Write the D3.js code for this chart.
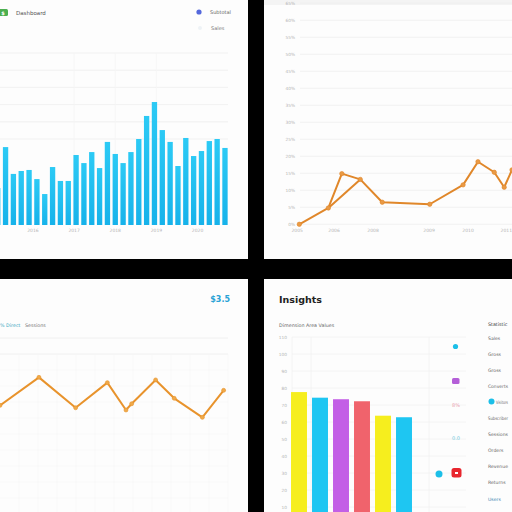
<!DOCTYPE html>
<html>
<head>
<meta charset="utf-8">
<script src="https://cdn.jsdelivr.net/npm/d3@7"></script>
<style>
body { margin: 0; background: #000; }
svg { display: block; }
text { font-family: "DejaVu Sans", sans-serif; }
</style>
</head>
<body>
<svg></svg>
<script>
// ---- data ----
// top-left: monthly bars
const barValues = [21.5, 45.3, 29.7, 31.4, 32.0, 26.7, 18.0, 33.7, 25.6, 25.6,
  40.7, 36.0, 42.4, 33.1, 48.3, 41.3, 36.0, 42.4, 50.0, 63.4,
  71.5, 55.2, 48.3, 34.3, 50.6, 40.1, 43.0, 48.8, 50.0, 44.8];
const barTickPos = [5, 10.25, 15.5, 20.75, 26];
const barTickLabels = ["2016", "2017", "2018", "2019", "2020"];

// top-right: growth line
const growthX = [0, 4.1, 6.0, 8.6, 11.7, 18.4, 23.1, 25.2, 27.5, 28.9, 30];
const growthY = [0, 4.8, 14.9, 13.2, 6.5, 5.9, 11.6, 18.4, 15.3, 10.9, 16.0];
const growthTrend = [1, 3]; // extra segment between these points
const growthTickPos = [-0.3, 4.9, 10.4, 18.3, 23.8, 29.2];
const growthTickLabels = ["2005", "2006", "2008", "2009", "2010", "2011"];

// bottom-left: sessions line
const sessionX = [0, 2.05, 3.98, 5.65, 6.63, 6.93, 8.19, 9.17, 10.65, 11.77];
const sessionY = [67.9, 85.4, 66.4, 82.1, 65.0, 68.9, 83.8, 72.3, 60.4, 77.3];

// bottom-right: category bars
const insightCats = ["A", "B", "C", "D", "E", "F"];
const insightValues = [77.6, 74.3, 73.4, 72.2, 63.7, 62.8];
const insightColors = ["#f6ee1e", "#1ec6f2", "#c35fe6", "#f0636c", "#f6ee1e", "#1ec6f2"];
const insightList = ["Sales", "Gross", "Gross", "Converts", "Visitors", "Subscriber",
  "Sessions", "Orders", "Revenue", "Returns", "Users"];

// ---- layout ----
const svg = d3.select("svg").attr("width", 512).attr("height", 512);
svg.append("rect").attr("width", 512).attr("height", 512).attr("fill", "#000");

const panels = [
  {id: "tl", x: 0, y: 0, w: 248, h: 259},
  {id: "tr", x: 264, y: 0, w: 248, h: 259},
  {id: "bl", x: 0, y: 279, w: 248, h: 233},
  {id: "br", x: 264, y: 279, w: 248, h: 233}
];
const defs = svg.append("defs");
const g = {};
panels.forEach(p => {
  defs.append("clipPath").attr("id", "clip-" + p.id)
    .append("rect").attr("x", p.x).attr("y", p.y).attr("width", p.w).attr("height", p.h);
  g[p.id] = svg.append("g").attr("clip-path", `url(#clip-${p.id})`);
  g[p.id].append("rect").attr("x", p.x).attr("y", p.y).attr("width", p.w).attr("height", p.h)
    .attr("fill", "#fdfdfd");
});

const grid = "#eeeeee";
const label = "#b5b5b5";

// ---- top-left: bars ----
{
  const gg = g.tl;
  const x = d3.scaleBand().domain(d3.range(barValues.length))
    .range([-6.2, 228.9]).paddingInner(0.32).paddingOuter(0.16);
  const xl = d3.scaleLinear().domain([0, 30]).range([-6.2, 228.9]);
  const y = d3.scaleLinear().domain([0, 100]).range([225, 53]);

  gg.selectAll(".hg").data(d3.range(50, 101, 10)).enter().append("line")
    .attr("x1", 0).attr("x2", 228).attr("y1", d => y(d)).attr("y2", d => y(d))
    .attr("stroke", grid).attr("stroke-width", 0.8);
  gg.selectAll(".vg").data(barTickPos.slice(1, 4)).enter().append("line")
    .attr("x1", d => xl(d)).attr("x2", d => xl(d)).attr("y1", 53).attr("y2", 225)
    .attr("stroke", "#f5f5f5").attr("stroke-width", 0.8);

  const grad = defs.append("linearGradient").attr("id", "barGrad")
    .attr("x1", 0).attr("x2", 0).attr("y1", 0).attr("y2", 1);
  grad.append("stop").attr("offset", "0%").attr("stop-color", "#2ccaf5");
  grad.append("stop").attr("offset", "100%").attr("stop-color", "#16b2ea");

  gg.selectAll(".bar").data(barValues).enter().append("rect")
    .attr("x", (d, i) => x(i)).attr("width", x.bandwidth())
    .attr("y", d => y(d)).attr("height", d => y(0) - y(d))
    .attr("fill", "url(#barGrad)");

  gg.selectAll(".xl").data(barTickPos).enter().append("text")
    .attr("x", d => xl(d)).attr("y", 232).attr("text-anchor", "middle")
    .attr("font-size", 4.5).attr("fill", label)
    .text((d, i) => barTickLabels[i]);

  gg.append("rect").attr("x", -2).attr("y", 9).attr("width", 10).attr("height", 7)
    .attr("rx", 1.5).attr("fill", "#4caf50");
  gg.append("text").attr("x", 3).attr("y", 14.5).attr("text-anchor", "middle")
    .attr("font-size", 5).attr("font-weight", "bold").attr("fill", "#fff").text("$");
  gg.append("text").attr("x", 16).attr("y", 14.5).attr("font-size", 5.5)
    .attr("fill", "#555").text("Dashboard");
  gg.append("circle").attr("cx", 199).attr("cy", 12).attr("r", 2.6).attr("fill", "#5468dc");
  gg.append("text").attr("x", 210).attr("y", 14).attr("font-size", 5)
    .attr("fill", "#666").text("Subtotal");
  gg.append("circle").attr("cx", 200).attr("cy", 28).attr("r", 2).attr("fill", "#eef2f6");
  gg.append("text").attr("x", 211).attr("y", 30).attr("font-size", 5)
    .attr("fill", "#777").text("Sales");
}

// ---- top-right: growth line ----
{
  const gg = g.tr;
  const x = d3.scaleLinear().domain([0, 30]).range([299.3, 512]);
  const y = d3.scaleLinear().domain([0, 65]).range([224.3, 3.3]);
  const ticks = d3.range(0, 66, 5);

  gg.append("rect").attr("x", 264).attr("y", 0).attr("width", 248).attr("height", 5)
    .attr("fill", "#f4f4f4");
  gg.selectAll(".hg").data(ticks).enter().append("line")
    .attr("x1", 300).attr("x2", 512).attr("y1", d => y(d)).attr("y2", d => y(d))
    .attr("stroke", "#f0f0f0").attr("stroke-width", 0.8);
  gg.selectAll(".yl").data(ticks).enter().append("text")
    .attr("x", 295).attr("y", d => y(d) + 1.6).attr("text-anchor", "end")
    .attr("font-size", 4.3).attr("fill", label).text(d => d + "%");
  gg.selectAll(".xl").data(growthTickPos).enter().append("text")
    .attr("x", d => x(d)).attr("y", 232).attr("text-anchor", "middle")
    .attr("font-size", 4.5).attr("fill", label)
    .text((d, i) => growthTickLabels[i]);

  const pts = growthX.map((v, i) => [x(v), y(growthY[i])]);
  const line = d3.line();
  gg.append("path").attr("d", line(pts)).attr("fill", "none")
    .attr("stroke", "#e0872a").attr("stroke-width", 2).attr("stroke-linejoin", "round");
  gg.append("path").attr("d", line(growthTrend.map(i => pts[i]))).attr("fill", "none")
    .attr("stroke", "#e0872a").attr("stroke-width", 2);
  gg.selectAll(".pt").data(pts).enter().append("circle")
    .attr("cx", d => d[0]).attr("cy", d => d[1]).attr("r", 2.2)
    .attr("fill", "#e99a45").attr("stroke", "#e0872a").attr("stroke-width", 0.6);
}

// ---- bottom-left: sessions line ----
{
  const gg = g.bl;
  const x = d3.scaleLinear().domain([0, 12]).range([0, 228]);
  const y = d3.scaleLinear().domain([0, 110]).range([514, 338]);

  gg.selectAll(".hg").data(d3.range(0, 111, 10)).enter().append("line")
    .attr("x1", 0).attr("x2", 228).attr("y1", d => y(d)).attr("y2", d => y(d))
    .attr("stroke", d => d >= 100 ? "#ececec" : "#f7f7f7").attr("stroke-width", 0.8);
  gg.selectAll(".vg").data(d3.range(1, 13)).enter().append("line")
    .attr("x1", d => x(d)).attr("x2", d => x(d)).attr("y1", 354).attr("y2", 512)
    .attr("stroke", "#f7f7f7").attr("stroke-width", 0.8);

  gg.append("text").attr("x", 230).attr("y", 302).attr("text-anchor", "end")
    .attr("font-size", 8).attr("font-weight", "bold").attr("fill", "#2aa3d6").text("$3.5");
  gg.append("text").attr("x", 0).attr("y", 327).attr("font-size", 4.8)
    .attr("fill", "#3ca7bf").text("% Direct");
  gg.append("text").attr("x", 25).attr("y", 327).attr("font-size", 4.8)
    .attr("fill", "#777").text("Sessions");

  const pts = sessionX.map((v, i) => [x(v), y(sessionY[i])]);
  gg.append("path").attr("d", d3.line()(pts)).attr("fill", "none")
    .attr("stroke", "#e8932c").attr("stroke-width", 2).attr("stroke-linejoin", "round");
  gg.selectAll(".pt").data(pts).enter().append("circle")
    .attr("cx", d => d[0]).attr("cy", d => d[1]).attr("r", 2)
    .attr("fill", "#efa94a").attr("stroke", "#e8932c").attr("stroke-width", 0.6);
}

// ---- bottom-right: insights bars ----
{
  const gg = g.br;
  const x = d3.scaleBand().domain(insightCats).range([288.5, 414.5])
    .paddingInner(0.24).paddingOuter(0.12);
  const y = d3.scaleLinear().domain([0, 110]).range([524, 337]);
  const ticks = d3.range(10, 111, 10);

  gg.selectAll(".hg").data(ticks).enter().append("line")
    .attr("x1", 292).attr("x2", 466).attr("y1", d => y(d)).attr("y2", d => y(d))
    .attr("stroke", "#f1f1f1").attr("stroke-width", 0.8);
  gg.selectAll(".vg").data([292, 311, 429]).enter().append("line")
    .attr("x1", d => d).attr("x2", d => d).attr("y1", 337).attr("y2", 512)
    .attr("stroke", "#f1f1f1").attr("stroke-width", 0.8);
  gg.selectAll(".yl").data(ticks).enter().append("text")
    .attr("x", 287).attr("y", d => y(d) + 1.6).attr("text-anchor", "end")
    .attr("font-size", 4.3).attr("fill", label).text(d => d);

  gg.selectAll(".bar").data(insightValues).enter().append("rect")
    .attr("x", (d, i) => x(insightCats[i])).attr("width", x.bandwidth())
    .attr("y", d => y(d)).attr("height", d => y(0) - y(d))
    .attr("fill", (d, i) => insightColors[i]);

  gg.append("text").attr("x", 279).attr("y", 303).attr("font-size", 9.5)
    .attr("font-weight", "bold").attr("fill", "#222").text("Insights");
  gg.append("text").attr("x", 279).attr("y", 327).attr("font-size", 4.8)
    .attr("fill", "#666").text("Dimension Area Values");

  // markers beside the chart
  gg.append("circle").attr("cx", 455.5).attr("cy", 346.5).attr("r", 2.6).attr("fill", "#1cbfe8");
  gg.append("rect").attr("x", 452).attr("y", 378).attr("width", 7.5).attr("height", 6)
    .attr("rx", 1.5).attr("fill", "#b45fd8");
  gg.append("text").attr("x", 456).attr("y", 406.5).attr("text-anchor", "middle")
    .attr("font-size", 5).attr("fill", "#eaa2b0").text("8%");
  gg.append("text").attr("x", 456).attr("y", 440).attr("text-anchor", "middle")
    .attr("font-size", 5).attr("fill", "#6cc7dc").text("0.0");
  gg.append("circle").attr("cx", 439).attr("cy", 474).attr("r", 3.5).attr("fill", "#1cbfe8");
  gg.append("rect").attr("x", 451.5).attr("y", 468).attr("width", 10).attr("height", 9.5)
    .attr("rx", 2.5).attr("fill", "#e8262e");
  gg.append("rect").attr("x", 455).attr("y", 472).attr("width", 3).attr("height", 2)
    .attr("fill", "#fff");

  // right list
  gg.append("text").attr("x", 488).attr("y", 325.5).attr("font-size", 4.8)
    .attr("fill", "#444").text("Statistic");
  gg.selectAll(".li").data(insightList).enter().append("text")
    .attr("x", (d, i) => i === 4 ? 496 : 488).attr("y", (d, i) => 339.5 + i * 16.1)
    .attr("font-size", 4.6).attr("fill", (d, i) => i === insightList.length - 1 ? "#3a7fb0" : "#666")
    .each(function (d, i) {
      const room = (i === 4 ? 511 - 496 : 511 - 488) - 3;
      if (d.length * 2.7 > room) d3.select(this).attr("textLength", room).attr("lengthAdjust", "spacingAndGlyphs");
    })
    .text(d => d);
  gg.append("circle").attr("cx", 491.5).attr("cy", 401.5).attr("r", 3).attr("fill", "#1cbfe8");
}
</script>
</body>
</html>
